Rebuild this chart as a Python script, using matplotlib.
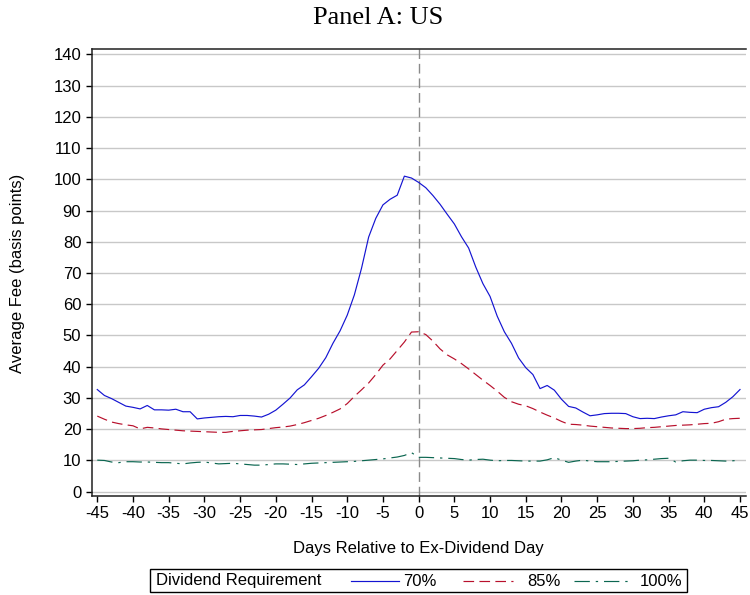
import matplotlib
matplotlib.use("Agg")
import matplotlib.pyplot as plt
from matplotlib.lines import Line2D
from matplotlib.patches import Rectangle
import numpy as np

plt.rcParams['font.family'] = ['Liberation Sans', 'DejaVu Sans']
plt.rcParams['axes.unicode_minus'] = False

days = np.arange(-45, 46)

fee_70 = [32.7, 30.8, 29.8, 28.6, 27.4, 27.0, 26.5, 27.6, 26.2, 26.2,
          26.1, 26.4, 25.6, 25.6, 23.3, 23.6, 23.8, 24.0, 24.1, 24.0,
          24.4, 24.4, 24.2, 23.9, 24.8, 26.1, 28.0, 30.0, 32.6, 34.2,
          36.8, 39.5, 42.9, 47.5, 51.5, 56.5, 63.0, 71.5, 81.5, 87.5,
          91.8, 93.6, 94.9, 101.0, 100.4, 99.0, 97.3, 94.8, 92.0, 88.8,
          85.7, 81.6, 78.0, 71.9, 66.6, 62.5, 56.2, 51.2, 47.5, 42.8,
          39.7, 37.5, 33.0, 34.0, 32.5, 29.6, 27.3, 26.8, 25.5, 24.3,
          24.6, 25.0, 25.1, 25.1, 25.0, 24.0, 23.4, 23.5, 23.4, 23.9,
          24.3, 24.6, 25.6, 25.4, 25.3, 26.4, 26.9, 27.2, 28.6, 30.4,
          32.7]

fee_85 = [24.2, 23.2, 22.3, 21.8, 21.4, 21.1, 20.1, 20.6, 20.4, 20.1,
          19.9, 19.7, 19.5, 19.4, 19.3, 19.2, 19.1, 19.0, 19.0, 19.3,
          19.5, 19.7, 19.8, 19.9, 20.2, 20.5, 20.7, 21.0, 21.5, 22.1,
          22.8, 23.5, 24.4, 25.4, 26.5, 28.2, 30.5, 32.6, 34.8, 37.5,
          40.5, 42.5, 45.2, 47.9, 51.1, 51.2, 50.3, 48.2, 45.7, 43.8,
          42.5, 41.0, 39.3, 37.5, 35.7, 34.0, 32.2, 30.2, 28.8, 28.0,
          27.5, 26.6, 25.5, 24.5, 23.6, 22.5, 21.6, 21.5, 21.3, 21.0,
          20.8, 20.6, 20.4, 20.3, 20.2, 20.2, 20.3, 20.5, 20.6, 20.8,
          21.0, 21.2, 21.3, 21.4, 21.6, 21.8, 21.9, 22.4, 23.2, 23.4,
          23.5]

fee_100 = [10.1, 10.0, 9.5, 9.3, 9.6, 9.6, 9.5, 9.5, 9.4, 9.3,
           9.3, 9.1, 8.9, 9.2, 9.4, 9.5, 9.2, 8.9, 9.0, 9.1,
           8.9, 8.7, 8.5, 8.5, 8.7, 8.9, 8.9, 8.8, 8.7, 8.9,
           9.1, 9.2, 9.3, 9.4, 9.5, 9.6, 9.7, 9.9, 10.1, 10.3,
           10.5, 10.8, 11.1, 11.6, 12.5, 11.0, 11.0, 10.9, 10.8, 10.7,
           10.6, 10.3, 10.1, 10.3, 10.4, 10.1, 9.9, 10.0, 10.0, 9.9,
           9.8, 9.8, 9.8, 10.2, 10.9, 10.1, 9.4, 9.8, 10.1, 9.8,
           9.6, 9.6, 9.6, 9.7, 9.8, 9.9, 10.1, 10.2, 10.4, 10.6,
           10.7, 9.5, 9.9, 10.1, 10.1, 10.0, 10.0, 9.9, 9.8, 9.9,
           10.1]

series_labels = ['70%', '85%', '100%']
legend_title = 'Dividend Requirement'

c70 = '#1414d2'
c85 = '#b8102c'
c100 = '#0b6650'

W, H = 750, 595
fig = plt.figure(figsize=(W / 100, H / 100), dpi=100)
ax = fig.add_axes([91.7 / W, 1 - 495.7 / H, (746 - 91.7) / W, (495.7 - 49) / H])

ax.set_xlim(-45.78, 45.84)
ax.set_ylim(-1.28, 141.7)
ax.set_yticks(np.arange(0, 141, 10))
ax.set_xticks(np.arange(-45, 46, 5))
ax.grid(axis='y', color='#c8c8c8', linewidth=1.0)
ax.grid(axis='x', visible=False)
ax.set_axisbelow(True)
ax.tick_params(labelsize=12, length=4.5, width=1.0, pad=3, colors='black')

for sp in ax.spines.values():
    sp.set_linewidth(1.1)
    sp.set_color('#202020')
ax.spines['right'].set_visible(False)

# event day marker
ax.axvline(0, color='#8a8a8a', linewidth=1.0, dashes=(7, 3.5), zorder=1)

ax.plot(days, fee_70, color=c70, linewidth=0.85, zorder=3)
ax.plot(days, fee_85, color=c85, linewidth=0.85, dashes=(9, 4.5), zorder=3)
ax.plot(days, fee_100, color=c100, linewidth=0.85, dashes=(13, 5, 2, 5), zorder=3)

fig.text(378 / W, 1 - 18 / H, 'Panel A: US', family='Liberation Serif',
         fontsize=19, ha='center', va='center')
fig.text(418 / W, 1 - 548 / H, 'Days Relative to Ex-Dividend Day',
         fontsize=12, ha='center', va='center')
fig.text(18 / W, 1 - 273 / H, 'Average Fee (basis points)',
         fontsize=12, ha='center', va='center', rotation=90)

# legend row drawn in pixel positions
def px(x, y):
    return x / W, 1 - y / H

box_x0, box_y0, box_x1, box_y1 = 150, 569, 687, 592
fig.add_artist(Rectangle(px(box_x0, box_y1), (box_x1 - box_x0) / W,
                         (box_y1 - box_y0) / H, transform=fig.transFigure,
                         facecolor='white', edgecolor='black', linewidth=1.0))
ly = 581
fig.text(*px(156, ly), legend_title, fontsize=12, ha='left', va='center')
samples = [((351, 399), 403, c70, None),
           ((463, 513), 527, c85, (9, 4.5)),
           ((574, 631), 640, c100, (13, 5, 2, 5))]
for ((x0, x1), tx, col, dsh), lab in zip(samples, series_labels):
    ln = Line2D([x0 / W, x1 / W], [1 - ly / H, 1 - ly / H], transform=fig.transFigure,
                color=col, linewidth=0.85)
    if dsh:
        ln.set_dashes(dsh)
    fig.add_artist(ln)
    fig.text(*px(tx, ly), lab, fontsize=12, ha='left', va='center')

fig.savefig('out.png', dpi=100)
